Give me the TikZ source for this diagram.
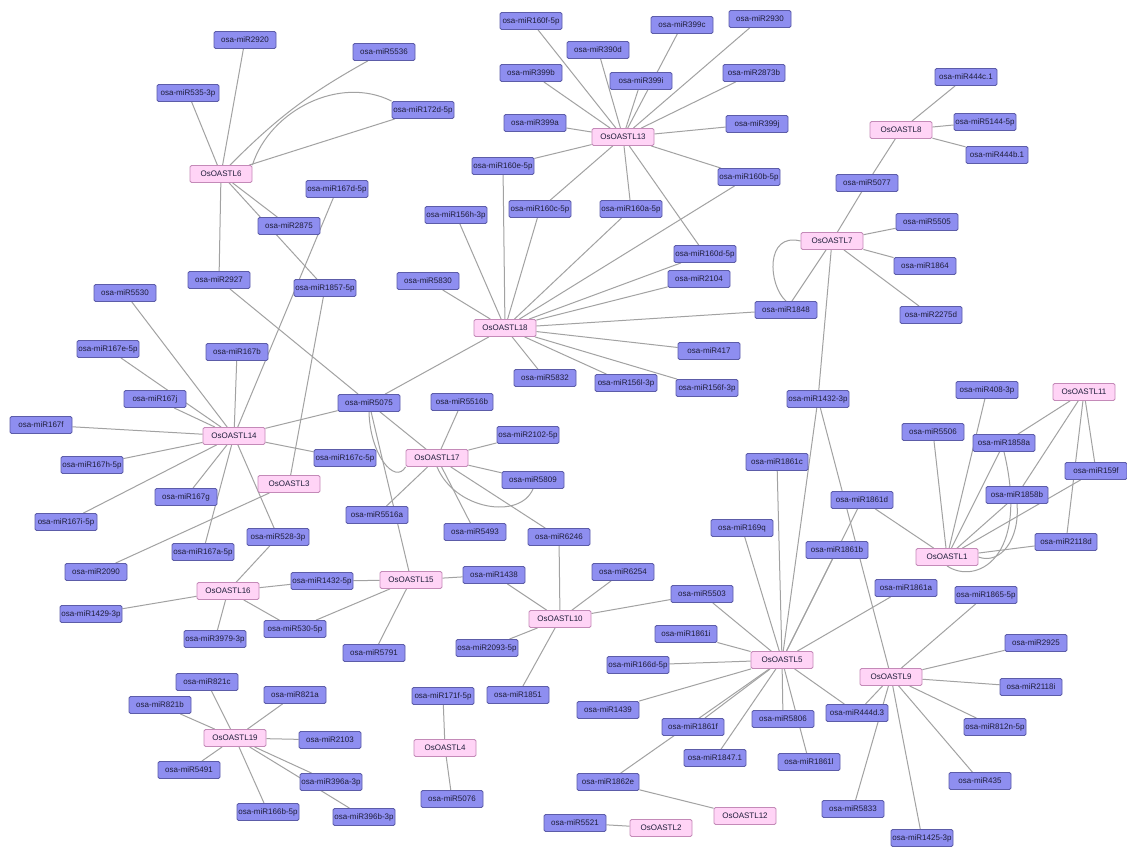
\documentclass[tikz,border=0pt]{standalone}
\usepackage{fontspec}
\setmainfont{Liberation Sans}
\usetikzlibrary{backgrounds}
\definecolor{mifill}{HTML}{8E8EF0}
\definecolor{midraw}{HTML}{5C5CA8}
\definecolor{osfill}{HTML}{FFD4F6}
\definecolor{osdraw}{HTML}{C48AB8}
\definecolor{edgegray}{HTML}{A2A2A2}
\definecolor{txt}{HTML}{1E1E3A}
\tikzset{
  boxbase/.style={rectangle, rounded corners=1.5pt, minimum width=62pt, minimum height=17pt, inner sep=1pt, font=\fontsize{8}{9}\selectfont, text=txt, line width=0.8pt},
  mi/.style={boxbase, fill=mifill, draw=midraw},
  os/.style={boxbase, fill=osfill, draw=osdraw},
  ed/.style={draw=edgegray, line width=1pt}
}
\begin{document}
\begin{tikzpicture}[x=1pt,y=-1pt]
\useasboundingbox (0,0) rectangle (1127,847);
% OsOASTL nodes
\node[os] (p6) at (221,174) {OsOASTL6};
\node[os] (p13) at (623,137) {OsOASTL13};
\node[os] (p8) at (901,130) {OsOASTL8};
\node[os] (p7) at (832,241) {OsOASTL7};
\node[os] (p18) at (505,328) {OsOASTL18};
\node[os] (p14) at (234,436) {OsOASTL14};
\node[os] (p17) at (437,458) {OsOASTL17};
\node[os] (p3) at (289,484) {OsOASTL3};
\node[os] (p11) at (1084,392) {OsOASTL11};
\node[os] (p1) at (947,557) {OsOASTL1};
\node[os] (p16) at (228,591) {OsOASTL16};
\node[os] (p15) at (411,580) {OsOASTL15};
\node[os] (p10) at (560,619) {OsOASTL10};
\node[os] (p5) at (782,660) {OsOASTL5};
\node[os] (p9) at (891,677) {OsOASTL9};
\node[os] (p19) at (235,738) {OsOASTL19};
\node[os] (p4) at (445,748) {OsOASTL4};
\node[os] (p12) at (745,816) {OsOASTL12};
\node[os] (p2) at (661,828) {OsOASTL2};
% miRNA nodes
\node[mi] (m2920) at (245,40) {osa-miR2920};
\node[mi] (m535) at (188,93) {osa-miR535-3p};
\node[mi] (m2927) at (219,280) {osa-miR2927};
\node[mi] (m5536) at (384,52) {osa-miR5536};
\node[mi] (m172d) at (423,110) {osa-miR172d-5p};
\node[mi] (m160f) at (531,21) {osa-miR160f-5p};
\node[mi] (m399b) at (531,73) {osa-miR399b};
\node[mi] (m399a) at (535,123) {osa-miR399a};
\node[mi] (m160e) at (503,166) {osa-miR160e-5p};
\node[mi] (m167d) at (337,189) {osa-miR167d-5p};
\node[mi] (m2875) at (289,226) {osa-miR2875};
\node[mi] (m156h) at (456,215) {osa-miR156h-3p};
\node[mi] (m160c) at (540,209) {osa-miR160c-5p};
\node[mi] (m1857) at (325,288) {osa-miR1857-5p};
\node[mi] (m5830) at (428,281) {osa-miR5830};
\node[mi] (m399c) at (682,25) {osa-miR399c};
\node[mi] (m2930) at (760,19) {osa-miR2930};
\node[mi] (m390d) at (598,50) {osa-miR390d};
\node[mi] (m399i) at (641,81) {osa-miR399i};
\node[mi] (m2873b) at (754,73) {osa-miR2873b};
\node[mi] (m399j) at (757,124) {osa-miR399j};
\node[mi] (m160b) at (749,177) {osa-miR160b-5p};
\node[mi] (m160a) at (631,209) {osa-miR160a-5p};
\node[mi] (m160d) at (705,254) {osa-miR160d-5p};
\node[mi] (m2104) at (699,279) {osa-miR2104};
\node[mi] (m444c) at (966,77) {osa-miR444c.1};
\node[mi] (m5144) at (985,122) {osa-miR5144-5p};
\node[mi] (m444b) at (997,155) {osa-miR444b.1};
\node[mi] (m5077) at (867,183) {osa-miR5077};
\node[mi] (m5505) at (927,222) {osa-miR5505};
\node[mi] (m1864) at (925,266) {osa-miR1864};
\node[mi] (m2275d) at (931,315) {osa-miR2275d};
\node[mi] (m408) at (987,390) {osa-miR408-3p};
\node[mi] (m5506) at (933,432) {osa-miR5506};
\node[mi] (m1858a) at (1004,443) {osa-miR1858a};
\node[mi] (m159f) at (1096,471) {osa-miR159f};
\node[mi] (m1858b) at (1017,495) {osa-miR1858b};
\node[mi] (m1861d) at (862,500) {osa-miR1861d};
\node[mi] (m2118d) at (1066,542) {osa-miR2118d};
\node[mi] (m1861b) at (837,550) {osa-miR1861b};
\node[mi] (m1848) at (786,310) {osa-miR1848};
\node[mi] (m417) at (709,351) {osa-miR417};
\node[mi] (m156l) at (626,383) {osa-miR156l-3p};
\node[mi] (m156f) at (707,388) {osa-miR156f-3p};
\node[mi] (m1432t) at (818,399) {osa-miR1432-3p};
\node[mi] (m1861c) at (777,462) {osa-miR1861c};
\node[mi] (m169q) at (742,528) {osa-miR169q};
\node[mi] (m5832) at (545,378) {osa-miR5832};
\node[mi] (m5075) at (369,403) {osa-miR5075};
\node[mi] (m5516b) at (462,402) {osa-miR5516b};
\node[mi] (m2102) at (528,435) {osa-miR2102-5p};
\node[mi] (m167c) at (345,458) {osa-miR167c-5p};
\node[mi] (m5809) at (533,480) {osa-miR5809};
\node[mi] (m5516a) at (377,515) {osa-miR5516a};
\node[mi] (m5493) at (475,532) {osa-miR5493};
\node[mi] (m6246) at (559,537) {osa-miR6246};
\node[mi] (m528) at (278,537) {osa-miR528-3p};
\node[mi] (m5530) at (125,293) {osa-miR5530};
\node[mi] (m167e) at (108,349) {osa-miR167e-5p};
\node[mi] (m167b) at (237,352) {osa-miR167b};
\node[mi] (m167j) at (155,399) {osa-miR167j};
\node[mi] (m167f) at (41,425) {osa-miR167f};
\node[mi] (m167h) at (92,465) {osa-miR167h-5p};
\node[mi] (m167g) at (186,497) {osa-miR167g};
\node[mi] (m167i) at (66,522) {osa-miR167i-5p};
\node[mi] (m167a) at (203,552) {osa-miR167a-5p};
\node[mi] (m2090) at (96,572) {osa-miR2090};
\node[mi] (m1429) at (91,614) {osa-miR1429-3p};
\node[mi] (m3979) at (215,639) {osa-miR3979-3p};
\node[mi] (m530) at (295,629) {osa-miR530-5p};
\node[mi] (m1432f) at (322,581) {osa-miR1432-5p};
\node[mi] (m821c) at (207,682) {osa-miR821c};
\node[mi] (m821b) at (160,705) {osa-miR821b};
\node[mi] (m821a) at (295,695) {osa-miR821a};
\node[mi] (m5491) at (189,770) {osa-miR5491};
\node[mi] (m166b) at (268,812) {osa-miR166b-5p};
\node[mi] (m5791) at (374,653) {osa-miR5791};
\node[mi] (m1438) at (494,575) {osa-miR1438};
\node[mi] (m2093) at (487,648) {osa-miR2093-5p};
\node[mi] (m171f) at (443,696) {osa-miR171f-5p};
\node[mi] (m1851) at (518,695) {osa-miR1851};
\node[mi] (m2103) at (330,740) {osa-miR2103};
\node[mi] (m396a) at (331,782) {osa-miR396a-3p};
\node[mi] (m396b) at (364,817) {osa-miR396b-3p};
\node[mi] (m5076) at (452,799) {osa-miR5076};
\node[mi] (m6254) at (623,572) {osa-miR6254};
\node[mi] (m5503) at (702,594) {osa-miR5503};
\node[mi] (m1861i) at (686,634) {osa-miR1861i};
\node[mi] (m166d) at (638,665) {osa-miR166d-5p};
\node[mi] (m1439) at (608,710) {osa-miR1439};
\node[mi] (m1861f) at (693,727) {osa-miR1861f};
\node[mi] (m5806) at (783,719) {osa-miR5806};
\node[mi] (m1847) at (715,758) {osa-miR1847.1};
\node[mi] (m1861l) at (809,762) {osa-miR1861l};
\node[mi] (m1862e) at (608,782) {osa-miR1862e};
\node[mi] (m5521) at (575,823) {osa-miR5521};
\node[mi] (m444d) at (857,713) {osa-miR444d.3};
\node[mi] (m1861a) at (906,588) {osa-miR1861a};
\node[mi] (m1865) at (986,595) {osa-miR1865-5p};
\node[mi] (m2925) at (1036,643) {osa-miR2925};
\node[mi] (m2118i) at (1031,687) {osa-miR2118i};
\node[mi] (m812n) at (995,727) {osa-miR812n-5p};
\node[mi] (m435) at (980,781) {osa-miR435};
\node[mi] (m5833) at (853,809) {osa-miR5833};
\node[mi] (m1425) at (922,838) {osa-miR1425-3p};
% edges
\begin{pgfonlayer}{background}
\fill[white] (0,0) rectangle (1127,847);
\foreach \a/\b in {p6/m2920,p6/m535,p6/m172d,p6/m2875,p6/m1857,p6/m2927,
  p13/m160f,p13/m390d,p13/m399c,p13/m2930,p13/m399b,p13/m399i,p13/m2873b,p13/m399a,p13/m399j,p13/m160b,p13/m160e,p13/m160c,p13/m160a,p13/m160d,
  p18/m160e,p18/m160c,p18/m156h,p18/m160a,p18/m160b,p18/m160d,p18/m2104,p18/m1848,p18/m417,p18/m156f,p18/m156l,p18/m5832,p18/m5830,p18/m5075,
  p7/m5077,p7/m5505,p7/m1864,p7/m2275d,p7/m1848,p7/m1432t,
  p8/m444c,p8/m5144,p8/m444b,p8/m5077,
  p14/m5530,p14/m167e,p14/m167b,p14/m167j,p14/m167f,p14/m167h,p14/m167g,p14/m167i,p14/m167a,p14/m528,p14/m167d,p14/m5075,p14/m167c,
  m2927/m5075,
  p17/m5516b,p17/m2102,p17/m5809,p17/m5493,p17/m6246,p17/m5516a,p17/m5075,
  p3/m1857,p3/m2090,
  p16/m528,p16/m1429,p16/m3979,p16/m530,p16/m1432f,
  p15/m1432f,p15/m1438,p15/m530,p15/m5791,p15/m5075,
  p10/m6246,p10/m6254,p10/m5503,p10/m1438,p10/m2093,p10/m1851,
  p5/m5503,p5/m1861i,p5/m166d,p5/m1439,p5/m1861f,p5/m1862e,p5/m1847,p5/m5806,p5/m1861l,p5/m444d,p5/m1861a,p5/m169q,p5/m1861c,p5/m1432t,p5/m1861b,p5/m1861d,
  p9/m1865,p9/m2925,p9/m2118i,p9/m812n,p9/m435,p9/m1425,p9/m5833,p9/m444d,p9/m1432t,
  p11/m1858a,p11/m1858b,p11/m159f,p11/m2118d,
  p1/m5506,p1/m408,p1/m1858a,p1/m1858b,p1/m159f,p1/m2118d,p1/m1861d,
  p19/m821c,p19/m821b,p19/m821a,p19/m5491,p19/m166b,p19/m2103,p19/m396a,p19/m396b,
  p4/m171f,p4/m5076,p12/m1862e,p2/m5521}
  \draw[ed] (\a) -- (\b);
% curved edges
\draw[ed] (p6) to[bend left=8] (m5536);
\draw[ed] (p6.north east) .. controls (270,110) and (340,75) .. (m172d.north west);
\draw[ed] (p7.west) .. controls (765,232) and (768,285) .. (m1848.north);
\draw[ed] (m5075.south) .. controls (370,455) and (395,485) .. (p17.south west);
\draw[ed] (p17.south) .. controls (455,510) and (520,520) .. (m5809.south);
\draw[ed] (p1.south) .. controls (975,585) and (1030,560) .. (m1858a.south);
\draw[ed] (p1.east) .. controls (1000,565) and (1020,540) .. (m1858b.south);
\end{pgfonlayer}
\end{tikzpicture}
\end{document}
